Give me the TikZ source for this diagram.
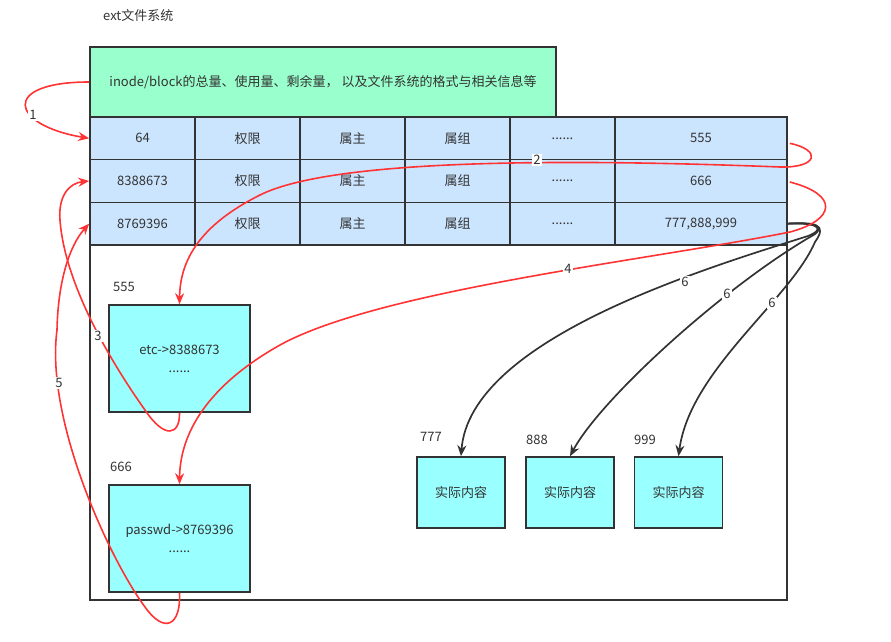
\documentclass[tikz,border=0pt]{standalone}
\usepackage{fontspec}
\setmainfont{Noto Sans CJK SC}
\usepackage{tikz}
\usetikzlibrary{arrows.meta, calc, positioning}
\definecolor{inkgray}{HTML}{333333}
\definecolor{infogreen}{HTML}{99FFCC}
\definecolor{cellblue}{HTML}{CCE5FF}
\definecolor{filecyan}{HTML}{99FFFF}
\definecolor{linkred}{HTML}{FF3333}
\newcommand{\sixdots}{......}

\begin{document}
\begin{tikzpicture} [x=1pt, y=-1pt, font=\fontsize{13}{18}\selectfont,
  every node/.style={text=inkgray},
  frame/.style={draw=inkgray, line width=1.6pt, minimum width=697pt, minimum height=483pt, inner sep=0pt},
  infobox/.style={draw=inkgray, line width=1.6pt, fill=infogreen, minimum width=466pt, minimum height=70pt, inner sep=0pt},
  cell/.style={draw=inkgray, line width=1.6pt, fill=cellblue, minimum height=42.67pt, inner sep=0pt},
  filebox/.style={draw=inkgray, line width=1.6pt, fill=filecyan, minimum width=141pt, minimum height=107pt, align=center},
  databox/.style={draw=inkgray, line width=1.6pt, fill=filecyan, minimum width=88pt, minimum height=71pt},
  tag/.style={anchor=west, inner sep=0pt},
  redline/.style={draw=linkred, line width=1.6pt, -{Stealth[length=11pt,width=9pt]}},
  blackline/.style={draw=inkgray, line width=1.7pt, -{Stealth[length=11pt,width=9pt]}},
  num/.style={fill=white, inner sep=1pt}]
\useasboundingbox (0,0) rectangle (891,642);

\node[tag] (title) at (103,16) {ext文件系统};
\node[frame] (disk) at (438.5,358.5) {};
\node[infobox] (info) at (323,82) {inode/block的总量、使用量、剩余量， 以及文件系统的格式与相关信息等};

% inode table
\foreach \y/\first/\last [count=\r] in {138.33/64/555, 181/8388673/666, 223.67/8769396/{777,888,999}} {
  \node[cell, minimum width=105pt] (c\r1) at (142.5,\y) {\first};
  \foreach \cx/\txt [count=\c from 2] in {247.5/权限, 352.5/属主, 457.5/属组, 562.5/\sixdots}
    \node[cell, minimum width=105pt] (c\r\c) at (\cx,\y) {\txt};
  \node[cell, minimum width=172pt] (c\r6) at (701,\y) {\last};
}

% blocks
\node[filebox] (etc) at (179.5,358.5) {etc->8388673\\\sixdots};
\node[filebox] (passwd) at (179.5,538.5) {passwd->8769396\\\sixdots};
\node[databox] (d777) at (461,492.5) {实际内容};
\node[databox] (d888) at (570,492.5) {实际内容};
\node[databox] (d999) at (678.5,492.5) {实际内容};
\node[tag] (t555) at (113,287) {555};
\node[tag] (t666) at (110,467) {666};
\node[tag] (t777) at (420,437) {777};
\node[tag] (t888) at (526,440) {888};
\node[tag] (t999) at (634,440) {999};

\draw[blackline] (c36.east) .. controls (815,222) and (828,228) .. (808,236) .. controls (700,270) and (470,340) .. (d777.north);
\draw[blackline] (c36.east) .. controls (815,222) and (828,228) .. (810,237) .. controls (720,290) and (600,400) .. (d888.north);
\draw[blackline] (c36.east) .. controls (815,222) and (828,224) .. (815,242) .. controls (790,300) and (690,370) .. (d999.north);

\draw[redline] (info.west) .. controls (0,82) and (10,125) .. (c11.west);
\draw[redline] ([shift={(2,5)}]c16.east) .. controls (822,150) and (818,168) .. (780,167) .. controls (550,158) and (330,160) .. (260,195) .. controls (200,225) and (180,260) .. (etc.north);
\draw[redline] (etc.south) .. controls (180,435) and (165,440) .. (145,410) .. controls (120,375) and (65,290) .. (60,220) .. controls (58,195) and (70,183) .. (c21.west);
\draw[redline] ([shift={(2,1)}]c26.east) .. controls (840,195) and (835,220) .. (790,232) .. controls (650,260) and (380,290) .. (280,345) .. controls (200,390) and (180,440) .. (passwd.north);
\draw[redline] (passwd.south) .. controls (181,625) and (165,635) .. (145,607) .. controls (110,560) and (45,420) .. (57,330) .. controls (58,280) and (70,245) .. (c31.west);

\node[num] (n1) at (33,115) {1};
\node[num] (n2) at (537,160) {2};
\node[num] (n3) at (98,336) {3};
\node[num] (n4) at (568,269) {4};
\node[num] (n5) at (59,383) {5};
\node[num] (n6a) at (685,282) {6};
\node[num] (n6b) at (727,294) {6};
\node[num] (n6c) at (772,303) {6};
\end{tikzpicture}
\end{document}
